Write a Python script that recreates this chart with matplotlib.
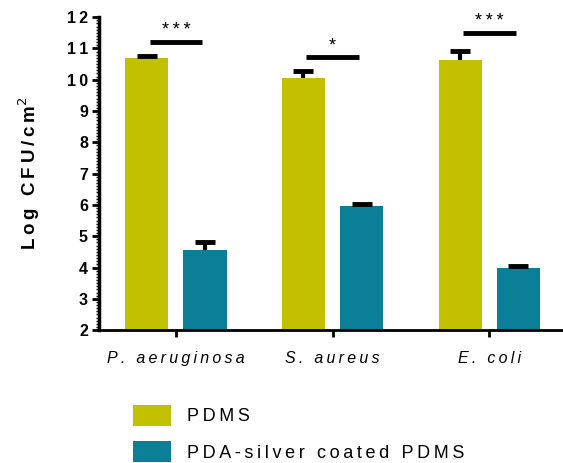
import numpy as np
import matplotlib.pyplot as plt
from matplotlib.ticker import MultipleLocator, FuncFormatter

plt.rcParams['font.family'] = ['Liberation Sans', 'DejaVu Sans']

# data
species = ['P. aeruginosa', 'S. aureus', 'E. coli']
pdms = [10.71, 10.04, 10.64]
pdms_err = [0.05, 0.23, 0.27]
silver = [4.56, 5.96, 3.97]
silver_err = [0.25, 0.07, 0.08]
stars = ['***', '*', '***']
star_y = [11.2, 10.72, 11.49]
series_names = ['PDMS', 'PDA-silver coated PDMS']

col_pdms = '#C2C000'
col_silver = '#0A7F97'


def spaced(s, sep='\u2009'):
    # wide letter spacing like the original
    return sep.join(s)


fig = plt.figure(figsize=(5.63, 4.63), dpi=100)
ax = fig.add_axes([0.176, 0.287, 0.824, 0.676])

x = np.arange(len(species))
w = 0.276
off = 0.186

ax.bar(x - off, pdms, w, color=col_pdms, label=spaced(series_names[0]))
ax.bar(x + off, silver, w, color=col_silver, label=spaced(series_names[1]))

# upper error bars only
for xs, ys, es in [(x - off, pdms, pdms_err), (x + off, silver, silver_err)]:
    tops = np.array(ys) + np.array(es)
    ax.vlines(xs, ys, tops, color='black', lw=3)
    ax.plot(xs, tops, ls='none', marker='_', ms=14, mew=3.5, color='black')

# significance bars
for i in range(len(species)):
    ax.plot([x[i] - 0.167, x[i] + 0.167], [star_y[i], star_y[i]], color='black', lw=3.5,
            solid_capstyle='butt')
    ax.text(x[i], star_y[i] + 0.1, spaced(stars[i]), ha='center', va='bottom',
            fontsize=13, color='black')

ax.set_ylim(2, 12)
ax.set_xlim(-0.49, 2.47)
ax.yaxis.set_major_locator(MultipleLocator(1))
ax.yaxis.set_minor_locator(MultipleLocator(0.1))
ax.yaxis.set_major_formatter(FuncFormatter(lambda v, p: spaced('%d' % v)))
ax.set_xticks(x)
ax.set_xticklabels([spaced(s) for s in species], fontstyle='italic', fontsize=11.5)
ax.tick_params(axis='y', which='major', length=5, width=2, pad=3, labelsize=11.5)
ax.tick_params(axis='y', which='minor', length=2.5, width=1)
ax.tick_params(axis='x', which='major', length=5, width=2, pad=10)
for lab in ax.get_yticklabels():
    lab.set_fontweight('bold')

ax.spines['top'].set_visible(False)
ax.spines['right'].set_visible(False)
ax.spines['left'].set_linewidth(2.5)
ax.spines['bottom'].set_linewidth(2)

ax.set_ylabel(spaced('Log CFU/cm') + '$^{2}$', fontsize=13.5, fontweight='bold', labelpad=18)

ax.legend(loc='upper left', bbox_to_anchor=(133 / 563, 1 - 405 / 463),
          bbox_transform=fig.transFigure, frameon=False, fontsize=13,
          handlelength=2.1, handleheight=1.4, handletextpad=0.9, labelspacing=0.85,
          borderpad=0, borderaxespad=0)

fig.savefig('out.png', dpi=100)
